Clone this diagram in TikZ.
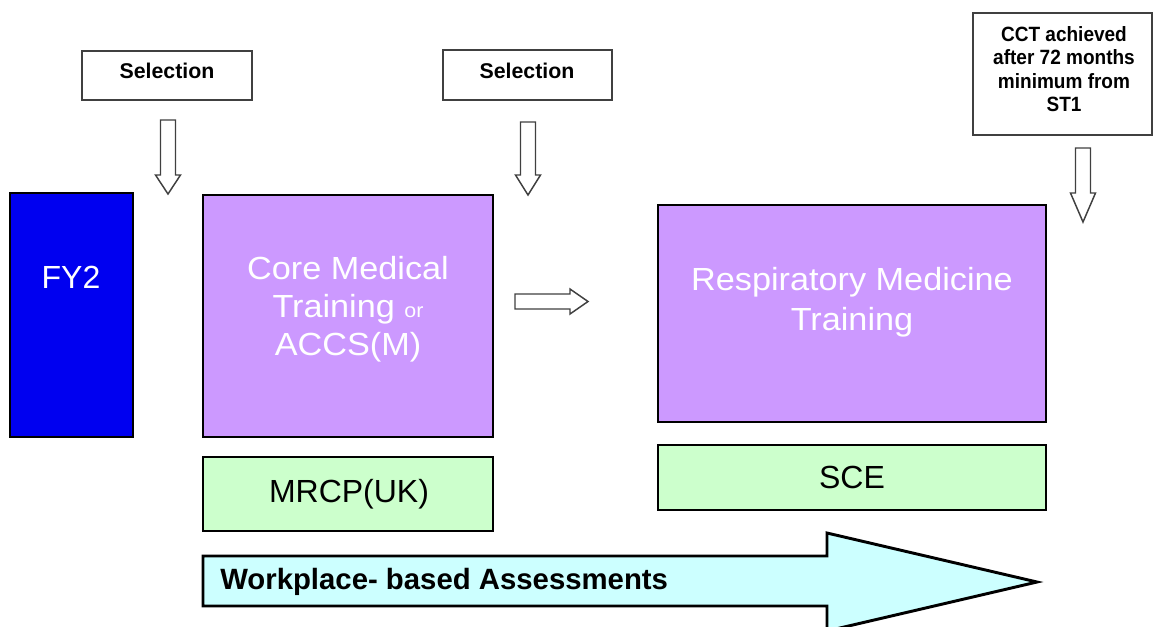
\documentclass[tikz,border=0pt]{standalone}
\usepackage{fontspec}
\setmainfont{Liberation Sans}
\newfontfamily\cctfont[FakeStretch=0.92]{Liberation Sans}
\newfontfamily\widefont[FakeStretch=1.07]{Liberation Sans}
\usetikzlibrary{fit}
\definecolor{fyblue}{HTML}{0000F0}
\definecolor{lav}{HTML}{CC99FF}
\definecolor{mint}{HTML}{CCFFCC}
\definecolor{aqua}{HTML}{CCFFFF}
\definecolor{outl}{HTML}{404040}
\newcommand\hollowdown[4]{%
  \draw[hollow] (#1-7.5,#2) -- (#1+7.5,#2) -- (#1+7.5,#3) -- (#1+12.5,#3)
    -- (#1,#4) -- (#1-12.5,#3) -- (#1-7.5,#3) -- cycle;}
\begin{document}
\begin{tikzpicture}[x=0.75pt,y=-0.75pt,
  thinbox/.style={draw=outl,line width=1.1pt,fill=white,inner sep=0pt},
  bigbox/.style={draw=black,line width=2.2pt,fill=lav,inner sep=0pt},
  exambox/.style={draw=black,line width=2.2pt,fill=mint,inner sep=0pt},
  hollow/.style={draw=outl,line width=1.1pt,fill=white,line join=miter},
  seltext/.style={font=\bfseries\fontsize{16}{18}\selectfont,inner sep=0pt},
  cctstyle/.style={font=\cctfont\bfseries\fontsize{15.5}{17.5}\selectfont,align=center,inner sep=0pt},
  whitetext/.style={text=white,font=\widefont\fontsize{24}{28.5}\selectfont,align=center,inner sep=0pt},
  blacktext/.style={text=black,font=\fontsize{24}{28}\selectfont,inner sep=0pt}
]
\useasboundingbox (0,0) rectangle (1153,626);
\clip (0,0) rectangle (1153,626);
\fill[white] (0,0) rectangle (1153,626);

% selection boxes
\node[thinbox,fit={(82,51) (252,100)}] (sel1) {};
\node[seltext] (sel1t) at (167,71) {Selection};
\node[thinbox,fit={(443,50) (612,100)}] (sel2) {};
\node[seltext] (sel2t) at (527,71) {Selection};

% CCT box
\node[thinbox,fit={(973,13) (1152,135)}] (cct) {};
\node[cctstyle] (cctt) at (1064,69) {CCT achieved\\after 72 months\\minimum from\\ST1};

% hollow down arrows
\hollowdown{168}{120}{175}{194}
\hollowdown{528}{122}{175}{195}
\hollowdown{1083}{148}{193}{222}

% FY2
\node[draw=black,line width=1.5pt,fill=fyblue,inner sep=0pt,fit={(10,193) (133,437)}] (fy2) {};
\node[whitetext,font=\fontsize{24}{28}\selectfont] (fy2t) at (71,277) {FY2};

% core medical training
\node[bigbox,fit={(203,195) (493,437)}] (core) {};
\node[whitetext] (coret) at (348,309) {Core Medical\\Training {\fontsize{15}{15}\selectfont or}\\ACCS(M)};

% right hollow arrow
\draw[hollow] (515,294) -- (570,294) -- (570,289) -- (588,301.5) -- (570,314) -- (570,309) -- (515,309) -- cycle;

% respiratory medicine training
\node[bigbox,fit={(658,205) (1046,422)}] (resp) {};
\node[whitetext,font=\widefont\fontsize{24}{30}\selectfont] (respt) at (852,302) {Respiratory Medicine\\Training};

% exams
\node[exambox,fit={(203,457) (493,531)}] (mrcp) {};
\node[blacktext] (mrcpt) at (349,494) {MRCP(UK)};
\node[exambox,fit={(658,445) (1046,510)}] (sce) {};
\node[blacktext] (scet) at (852,477) {SCE};

% workplace-based assessments arrow
\draw[draw=black,line width=2.2pt,fill=aqua,line join=miter]
  (203,556) -- (827,556) -- (827,533) -- (1037,582) -- (827,631) -- (827,606) -- (203,606) -- cycle;
\node[anchor=west,font=\bfseries\fontsize{22}{26}\selectfont,inner sep=0pt] (wpba) at (220,582) {Workplace- based Assessments};
\end{tikzpicture}
\end{document}
